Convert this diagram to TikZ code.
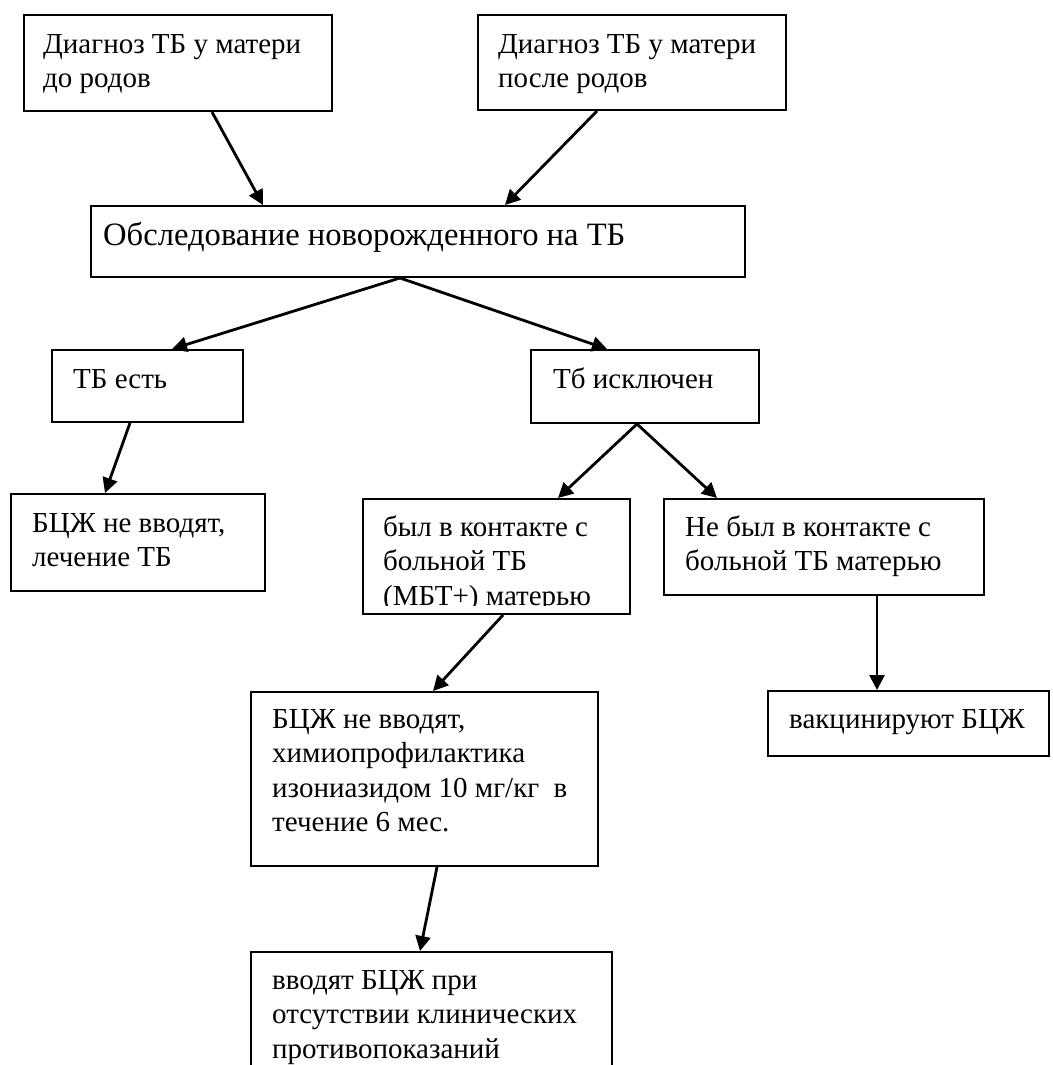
\documentclass[tikz,border=0pt]{standalone}
\usepackage{fontspec}
\setmainfont{Liberation Serif}
\usetikzlibrary{arrows.meta}

\begin{document}
\begin{tikzpicture}[x=1pt,y=-1pt,
    box/.style={draw,line width=2pt,anchor=north west,inner sep=0pt},
    txt/.style={anchor=base west,align=flush left,text width=640pt,inner sep=0pt,font=\fontsize{29}{34.5}\selectfont},
    arr/.style={line width=2.8pt,-{Triangle[length=15pt,width=15pt]}}]
  \useasboundingbox (0,0) rectangle (1052,1065);
  \node[box,minimum width=308pt,minimum height=96pt] (before) at (23,14) {};
  \node[box,minimum width=308pt,minimum height=95pt] (after) at (477,14) {};
  \node[box,minimum width=654pt,minimum height=71pt] (exam) at (90,205) {};
  \node[box,minimum width=191pt,minimum height=72pt] (yes) at (51,349) {};
  \node[box,minimum width=228pt,minimum height=73pt] (no) at (530,349) {};
  \node[box,minimum width=254pt,minimum height=97pt] (treat) at (10,493) {};
  \node[box,minimum width=267pt,minimum height=115pt] (contact) at (362,498) {};
  \node[box,minimum width=320pt,minimum height=96pt] (nocontact) at (663,498) {};
  \node[box,minimum width=347pt,minimum height=174pt] (prophyl) at (250,691) {};
  \node[box,minimum width=281pt,minimum height=65pt] (vacc) at (767,690) {};
  \node[box,minimum width=361pt,minimum height=150pt] (later) at (250,951) {};

  \node[txt] (before-t) at ([shift={(20pt,-39pt)}]before.north west) {Диагноз ТБ у матери\\до родов};
  \node[txt] (after-t) at ([shift={(21pt,-39pt)}]after.north west) {Диагноз ТБ у матери\\после родов};
  \node[txt,font=\fontsize{32.6}{38}\selectfont] (exam-t) at ([shift={(13pt,-40pt)}]exam.north west) {Обследование новорожденного на ТБ};
  \node[txt] (yes-t) at ([shift={(22pt,-39pt)}]yes.north west) {ТБ есть};
  \node[txt] (no-t) at ([shift={(23pt,-39pt)}]no.north west) {Тб исключен};
  \node[txt] (treat-t) at ([shift={(22pt,-39pt)}]treat.north west) {БЦЖ не вводят,\\лечение ТБ};
  \begin{scope}
    \clip (contact.north west) rectangle ([yshift=10pt]contact.south east);
    \node[txt] (contact-t) at ([shift={(21pt,-38pt)}]contact.north west) {был в контакте с\\больной ТБ\\(МБТ+) матерью};
  \end{scope}
  \node[txt] (nocontact-t) at ([shift={(22pt,-38pt)}]nocontact.north west) {Не был в контакте с\\больной ТБ матерью};
  \node[txt] (prophyl-t) at ([shift={(22pt,-37pt)}]prophyl.north west) {БЦЖ не вводят,\\химиопрофилактика\\изониазидом 10 мг/кг\ \ в\\течение 6 мес.};
  \node[txt] (vacc-t) at ([shift={(22pt,-38pt)}]vacc.north west) {вакцинируют БЦЖ};
  \node[txt] (later-t) at ([shift={(22pt,-38pt)}]later.north west) {вводят БЦЖ при\\отсутствии клинических\\противопоказаний};

  \foreach \s/\ds/\t/\dt in {before/189/exam/173, after/120/exam/415, exam/310/yes/121,
      exam/310/no/77, yes/79/treat/95, no/107/contact/196, no/107/nocontact/54,
      nocontact/214/vacc/110, contact/141/prophyl/183, prophyl/187/later/170}
    \draw[arr] ([xshift=\ds pt]\s.south west) -- ([xshift=\dt pt]\t.north west);
\end{tikzpicture}
\end{document}
